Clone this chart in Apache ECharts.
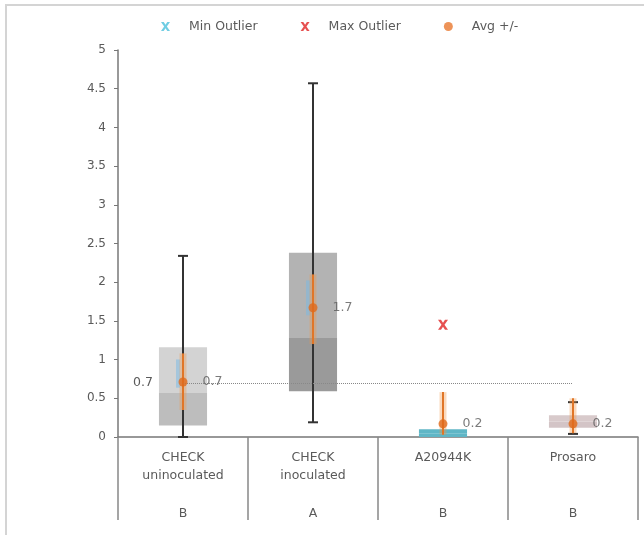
<!DOCTYPE html>
<html>
<head>
<meta charset="utf-8">
<script src="https://cdn.jsdelivr.net/npm/echarts@6/dist/echarts.min.js"></script>
<style>
  html, body { margin: 0; padding: 0; background: #fff; }
  #chart { width: 644px; height: 535px; }
</style>
</head>
<body>
<div id="chart"></div>
<script>
// categories and grouping letters
const categories = ['CHECK\nuninoculated', 'CHECK\ninoculated', 'A20944K', 'Prosaro'];
const groupLetters = ['B', 'A', 'B', 'B'];

// box parts: q1, median, q3
const boxQ1 = [0.15, 0.59, 0.0, 0.12];
const boxMedian = [0.57, 1.28, 0.05, 0.2];
const boxQ3 = [1.16, 2.38, 0.1, 0.28];

// whiskers (null = none drawn)
const whiskerMin = [0.0, 0.19, null, 0.04];
const whiskerMax = [2.34, 4.57, null, 0.45];

// average +/- error
const avgValues = [0.71, 1.67, 0.17, 0.17];
const avgLow = [0.35, 1.2, 0.03, 0.05];
const avgHigh = [1.08, 2.1, 0.58, 0.5];

// outliers
const maxOutliers = [[2, 1.45]];
const minOutliers = [];

// reference line (check uninoculated mean)
const refValue = 0.7;

const boxLowerColors = ['#bdbdbd', '#9a9a9a', '#5fb6c6', '#d3c4c6'];
const boxUpperColors = ['#d3d3d3', '#b3b3b3', '#5fb6c6', '#d8cacb'];
const blueGlow = [true, true, false, false];

const xPath = 'path://M0,0 L3,0 L5,3 L7,0 L10,0 L6.5,5 L10,10 L7,10 L5,7 L3,10 L0,10 L3.5,5 Z';
const textColor = '#5a5a5a';
const fontFam = '"DejaVu Sans", Verdana, sans-serif';

const chart = echarts.init(document.getElementById('chart'));

const boxData = categories.map((c, i) => [i, boxQ1[i], boxMedian[i], boxQ3[i]]);
const whiskerData = categories.map((c, i) => [i, whiskerMin[i], whiskerMax[i]]).filter(d => d[1] != null);
const errData = categories.map((c, i) => [i, avgLow[i], avgHigh[i]]);
const avgData = categories.map((c, i) => [i, avgValues[i]]);

chart.setOption({
  animation: false,
  textStyle: { fontFamily: fontFam },
  graphic: [{
    type: 'rect',
    shape: { x: 6, y: 5, width: 700, height: 600 },
    style: { fill: 'none', stroke: '#d4d4d4', lineWidth: 2 },
    silent: true
  }],
  legend: {
    top: 15,
    left: 156,
    itemGap: 43,
    itemWidth: 11,
    itemHeight: 9,
    textStyle: { color: textColor, fontSize: 12.5, fontFamily: fontFam, padding: [0, 0, 0, 13] },
    data: [
      { name: 'Min Outlier', icon: xPath, itemStyle: { color: '#4cc0dc' } },
      { name: 'Max Outlier', icon: xPath, itemStyle: { color: '#e02424' } },
      { name: 'Avg +/-', icon: 'circle', itemStyle: { color: '#e8782e' } }
    ]
  },
  grid: { left: 118, top: 50, right: 6, bottom: 98 },
  xAxis: [{
    type: 'category',
    data: categories,
    boundaryGap: true,
    axisLine: { lineStyle: { color: '#777', width: 1.5 } },
    axisTick: { show: true, interval: 0, length: 83, lineStyle: { color: '#888', width: 1.5 } },
    axisLabel: { interval: 0, color: textColor, fontSize: 12.5, lineHeight: 18, margin: 12 }
  }, {
    type: 'category',
    data: groupLetters,
    position: 'bottom',
    gridIndex: 0,
    axisLine: { show: false },
    axisTick: { show: false },
    axisLabel: { interval: 0, color: textColor, fontSize: 12.5, margin: 70 }
  }],
  yAxis: {
    type: 'value',
    min: 0,
    max: 5,
    interval: 0.5,
    axisLine: { show: true, lineStyle: { color: '#777', width: 1.5 } },
    axisTick: { show: true, length: 4, lineStyle: { color: '#777' } },
    splitLine: { show: false },
    axisLabel: { color: textColor, fontSize: 12, margin: 12 }
  },
  series: [
    {
      name: 'box',
      type: 'custom',
      data: boxData,
      z: 2,
      renderItem: (params, api) => {
        const i = api.value(0);
        const band = api.size([1, 0])[0];
        const w = band * 0.37;
        const pQ1 = api.coord([i, api.value(1)]);
        const pMed = api.coord([i, api.value(2)]);
        const pQ3 = api.coord([i, api.value(3)]);
        const x = pQ1[0] - w / 2;
        return {
          type: 'group',
          children: [
            { type: 'rect', shape: { x, y: pMed[1], width: w, height: pQ1[1] - pMed[1] }, style: { fill: boxLowerColors[i] } },
            { type: 'rect', shape: { x, y: pQ3[1], width: w, height: pMed[1] - pQ3[1] }, style: { fill: boxUpperColors[i] } }
          ]
        };
      },
      markLine: {
        silent: true,
        symbol: 'none',
        lineStyle: { type: 'dotted', color: '#888', width: 1 },
        label: { show: true, position: 'start', distance: 30, color: textColor, fontSize: 12.5, formatter: refValue.toFixed(1) },
        data: [[{ coord: [0, refValue] }, { coord: [3, refValue] }]]
      }
    },
    {
      name: 'whisker',
      type: 'custom',
      data: whiskerData,
      z: 3,
      renderItem: (params, api) => {
        const i = api.value(0);
        const lo = api.coord([i, api.value(1)]);
        const hi = api.coord([i, api.value(2)]);
        const cap = 5;
        const st = { stroke: '#333', lineWidth: 2 };
        return {
          type: 'group',
          children: [
            { type: 'line', shape: { x1: lo[0], y1: lo[1], x2: hi[0], y2: hi[1] }, style: st },
            { type: 'line', shape: { x1: lo[0] - cap, y1: lo[1], x2: lo[0] + cap, y2: lo[1] }, style: st },
            { type: 'line', shape: { x1: hi[0] - cap, y1: hi[1], x2: hi[0] + cap, y2: hi[1] }, style: st }
          ]
        };
      }
    },
    {
      name: 'error',
      type: 'custom',
      data: errData,
      z: 4,
      renderItem: (params, api) => {
        const i = api.value(0);
        const lo = api.coord([i, api.value(1)]);
        const hi = api.coord([i, api.value(2)]);
        const kids = [];
        if (blueGlow[i]) {
          kids.push({ type: 'line', shape: { x1: lo[0] - 5, y1: hi[1] + 6, x2: lo[0] - 5, y2: (hi[1] + lo[1]) / 2 + 6 }, style: { stroke: 'rgba(120,185,230,0.5)', lineWidth: 4 } });
        }
        kids.push({ type: 'line', shape: { x1: lo[0], y1: lo[1], x2: hi[0], y2: hi[1] }, style: { stroke: 'rgba(240,150,70,0.35)', lineWidth: 7 } });
        kids.push({ type: 'line', shape: { x1: lo[0], y1: lo[1], x2: hi[0], y2: hi[1] }, style: { stroke: '#e07628', lineWidth: 2 } });
        return { type: 'group', children: kids };
      }
    },
    {
      name: 'Avg +/-',
      type: 'scatter',
      data: avgData,
      z: 5,
      symbol: 'circle',
      symbolSize: 9,
      itemStyle: { color: '#e06a1c' },
      label: {
        show: true,
        position: 'right',
        distance: 15,
        color: textColor,
        fontSize: 12.5,
        formatter: p => p.value[1].toFixed(1)
      }
    },
    {
      name: 'Max Outlier',
      type: 'scatter',
      data: maxOutliers,
      z: 5,
      symbol: xPath,
      symbolSize: 10,
      itemStyle: { color: '#e02424' }
    },
    {
      name: 'Min Outlier',
      type: 'scatter',
      data: minOutliers,
      z: 5,
      symbol: xPath,
      symbolSize: 10,
      itemStyle: { color: '#4cc0dc' }
    }
  ]
});
</script>
</body>
</html>
